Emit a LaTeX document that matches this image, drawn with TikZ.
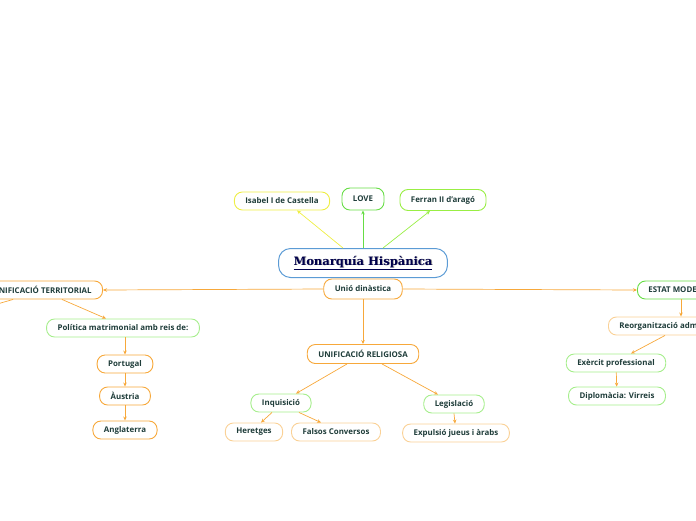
\documentclass[tikz,border=0pt]{standalone}
\usepackage{fontspec}
\setmainfont{Open Sans}
\newfontfamily\titlefont{DejaVu Serif}
\usepackage{xcolor}
\usetikzlibrary{arrows.meta}

\definecolor{txtc}{HTML}{1F3D3A}
\definecolor{orng}{HTML}{F7A83A}
\definecolor{lorng}{HTML}{FAD196}
\definecolor{grn}{HTML}{66DD44}
\definecolor{lgrn}{HTML}{A6EE8C}
\definecolor{yell}{HTML}{EEEE44}
\definecolor{lime}{HTML}{99EE44}
\definecolor{blu}{HTML}{5B9BD5}

\begin{document}
\begin{tikzpicture}[x=1pt,y=-1pt,
    topic/.style={draw, fill=white, rounded corners=8pt, line width=0.9pt,
        minimum height=18pt, inner xsep=11pt, inner ysep=2pt,
        text=txtc, font=\fontsize{7.9}{9}\selectfont\bfseries},
    edge/.style={draw=orng, line width=0.7pt, -{Stealth[length=4pt,width=3.5pt]}},
    plain/.style={draw=orng, line width=0.7pt}]
    \useasboundingbox (0,0) rectangle (696,520);
    \clip (0,0) rectangle (696,520);

    % centre
    \node[topic, draw=blu, line width=1pt, rounded corners=12pt, minimum height=29pt, inner xsep=15pt,
        font=\titlefont\fontsize{11.5}{13}\selectfont\bfseries, text=blue!30!black] (mon) at (363,263)
        {\underline{\makebox[0pt][l]{\raisebox{-0.8pt}{\hspace{0.8pt}\color{black!40}Monarquía Hispànica}}Monarquía Hispànica}};
    \node[topic, draw=yell] (isa) at (282,201) {Isabel I de Castella};
    \node[topic, draw=grn, minimum height=22pt] (love) at (363,199) {LOVE};
    \node[topic, draw=lime, minimum height=21pt] (fer) at (443,200) {Ferran II d'aragó};
    \node[topic, draw=orng, minimum height=20pt] (unio) at (363,289) {Unió dinàstica};

    % unificacio territorial
    \node[topic, draw=orng, anchor=east] (terr) at (103,290) {UNIFICACIÓ TERRITORIAL};
    \node[topic, draw=lgrn] (pol) at (123,328) {Política matrimonial amb reis de:};
    \node[topic, draw=orng] (por) at (125,364) {Portugal};
    \node[topic, draw=orng] (aus) at (125,396) {Àustria};
    \node[topic, draw=orng] (ang) at (125,430) {Anglaterra};
    \coordinate (offl) at (-20,309);

    % unificacio religiosa
    \node[topic, draw=orng, minimum height=19pt] (rel) at (363,354) {UNIFICACIÓ RELIGIOSA};
    \node[topic, draw=lgrn] (inq) at (281,403) {Inquisició};
    \node[topic, draw=lgrn] (leg) at (454,404) {Legislació};
    \node[topic, draw=lorng] (her) at (254,432) {Heretges};
    \node[topic, draw=lorng] (fal) at (336,432) {Falsos Conversos};
    \node[topic, draw=lorng] (exp) at (456,433) {Expulsió jueus i àrabs};

    % estat modern
    \node[topic, draw=grn, anchor=west] (est) at (637,290) {ESTAT MODERN};
    \node[topic, draw=lorng, anchor=west] (reo) at (608,326) {Reorganització administrativa};
    \node[topic, draw=lgrn] (exe) at (616,363) {Exèrcit professional};
    \node[topic, draw=lgrn] (dip) at (617,396) {Diplomàcia: Virreis};

    % connectors
    \draw[edge, draw=yell] ([xshift=-20pt]mon.north) -- ([xshift=15pt]isa.south);
    \draw[edge, draw=grn] (mon.north) -- (love.south);
    \draw[edge, draw=lime] ([xshift=20pt]mon.north) -- ([xshift=-13pt]fer.south);
    \draw[edge] (unio.west) -- (terr.east);
    \draw[edge] (unio.east) -- (est.west);
    \draw[edge] (unio.south) -- (rel.north);
    \draw[edge] ([xshift=-41pt]terr.south east) -- ([xshift=-17pt]pol.north);
    \draw[plain] ([xshift=-90pt]terr.south east) -- (offl);
    \draw[edge] ([xshift=2pt]pol.south) -- (por.north);
    \draw[edge] (por) -- (aus);
    \draw[edge] (aus) -- (ang);
    \draw[edge] ([xshift=-16pt]rel.south) -- ([xshift=15pt]inq.north);
    \draw[edge] ([xshift=19pt]rel.south) -- ([xshift=-16pt]leg.north);
    \draw[edge] ([xshift=-9pt]inq.south) -- ([xshift=7pt]her.north);
    \draw[edge] ([xshift=18pt]inq.south) -- ([xshift=-15pt]fal.north);
    \draw[edge] (leg.south) -- ([xshift=-1pt]exp.north);
    \draw[edge] ([xshift=44pt]est.south west) -- ([xshift=73pt]reo.north west);
    \draw[edge] ([xshift=57pt]reo.south west) -- ([xshift=15pt]exe.north);
    \draw[edge] (exe) -- (dip);
\end{tikzpicture}
\end{document}
